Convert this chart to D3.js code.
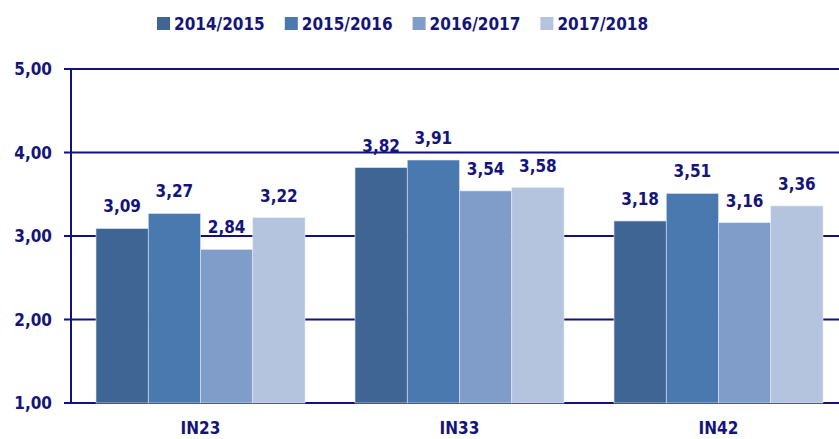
<!DOCTYPE html>
<html lang="en">
<head>
<meta charset="UTF-8">
<title>IN chart</title>
<script src="https://cdn.jsdelivr.net/npm/d3@7"></script>
<style>
  body { margin: 0; background: #fff; }
  text { font-family: "DejaVu Sans Condensed", "DejaVu Sans", sans-serif; font-weight: bold; fill: #14147a; }
</style>
</head>
<body>
<div id="container"></div>
<script>
    const categories = ['IN23', 'IN33', 'IN42']
    const seasons = ['2014/2015', '2015/2016', '2016/2017', '2017/2018']
    const values = {
        '2014/2015': [3.09, 3.82, 3.18],
        '2015/2016': [3.27, 3.91, 3.51],
        '2016/2017': [2.84, 3.54, 3.16],
        '2017/2018': [3.22, 3.58, 3.36]
    }
    const yTicks = [1, 2, 3, 4, 5]

    const width = 839
    const height = 439
    const axisColor = '#12127e'
    const colors = ['#3e6594', '#4a79b0', '#7f9dc8', '#b5c4de']

    const svg = d3.select('#container').append('svg')
        .attr('width', width)
        .attr('height', height)

    const x = d3.scaleBand()
        .domain(categories)
        .range([71, 848])
        .paddingInner(0.193)
        .paddingOuter(0.0965)

    const xInner = d3.scaleBand()
        .domain(seasons)
        .range([0, x.bandwidth()])

    const y = d3.scaleLinear()
        .domain([1, 5])
        .range([403, 69])

    const fmt = v => d3.format('.2f')(v).replace('.', ',')

    // grid lines
    svg.append('g')
        .selectAll('line')
        .data(yTicks)
        .enter()
        .append('line')
        .attr('x1', 64)
        .attr('x2', width)
        .attr('y1', d => y(d))
        .attr('y2', d => y(d))
        .attr('stroke', axisColor)
        .attr('stroke-width', 2)

    svg.append('line')
        .attr('x1', 71).attr('x2', 71)
        .attr('y1', y(5)).attr('y2', y(1))
        .attr('stroke', axisColor)
        .attr('stroke-width', 2)

    svg.append('g')
        .selectAll('text')
        .data(yTicks)
        .enter()
        .append('text')
        .attr('x', 52)
        .attr('y', d => y(d))
        .attr('dy', '0.36em')
        .attr('text-anchor', 'end')
        .attr('font-size', '17px')
        .text(fmt)

    // bars
    const rows = []
    seasons.forEach((s, si) => {
        categories.forEach((c, ci) => rows.push({season: s, cat: c, value: values[s][ci], color: colors[si]}))
    })

    svg.append('g')
        .selectAll('rect')
        .data(rows)
        .enter()
        .append('rect')
        .attr('x', d => x(d.cat) + xInner(d.season))
        .attr('y', d => y(d.value))
        .attr('width', xInner.bandwidth())
        .attr('height', d => y(1) - y(d.value))
        .attr('fill', d => d.color)
        .attr('stroke', '#e4e9f2')
        .attr('stroke-width', 0.6)

    svg.append('g')
        .selectAll('text')
        .data(rows)
        .enter()
        .append('text')
        .attr('x', d => x(d.cat) + xInner(d.season) + xInner.bandwidth() / 2)
        .attr('y', d => y(d.value) - 16)
        .attr('text-anchor', 'middle')
        .attr('font-size', '17px')
        .text(d => fmt(d.value))

    // x labels
    svg.append('g')
        .selectAll('text')
        .data(categories)
        .enter()
        .append('text')
        .attr('x', d => x(d) + x.bandwidth() / 2)
        .attr('y', 434)
        .attr('text-anchor', 'middle')
        .attr('font-size', '17px')
        .text(d => d)

    // legend
    const legend = svg.append('g')
        .selectAll('g')
        .data(seasons)
        .enter()
        .append('g')
        .attr('transform', (d, i) => `translate(${157 + i * 127.8},0)`)

    legend.append('rect')
        .attr('x', 0)
        .attr('y', 17)
        .attr('width', 13)
        .attr('height', 13)
        .attr('fill', (d, i) => colors[i])

    legend.append('text')
        .attr('x', 17)
        .attr('y', 30)
        .attr('font-size', '17px')
        .text(d => d)
</script>
</body>
</html>
